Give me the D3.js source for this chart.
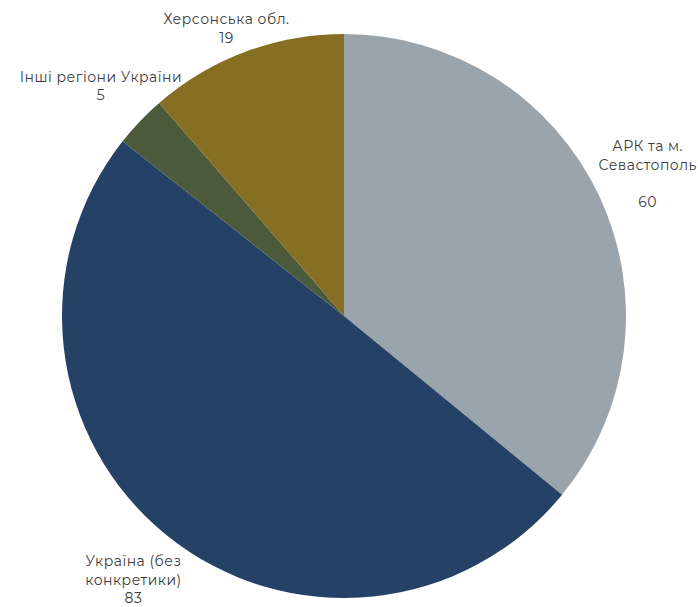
<!DOCTYPE html>
<html>
<head>
<meta charset="utf-8">
<script src="https://cdn.jsdelivr.net/npm/d3@7"></script>
<style>
  html, body { margin: 0; padding: 0; background: #ffffff; }
  svg { display: block; }
</style>
</head>
<body>
<svg id="chart" width="698" height="607"></svg>
<script>
// Regions and counts, in clockwise order from 12 o'clock
const regions = ["АРК та м. Севастополь", "Україна (без конкретики)", "Інші регіони України", "Херсонська обл."];
const counts = [60, 83, 5, 19];
const labelLines = [
  ["АРК та м.", "Севастополь", "", "60"],
  ["Україна (без", "конкретики)", "83"],
  ["Інші регіони України", "5"],
  ["Херсонська обл.", "19"]
];
const colors = ["#9aa4ac", "#264166", "#4a5a3b", "#866e22"];

const width = 698, height = 607;
const cx = 344, cy = 316, radius = 282;
const labelRadius = 336;
const lineHeight = 18.5;

const svg = d3.select("#chart");
const g = svg.append("g").attr("transform", `translate(${cx},${cy})`);

const data = regions.map((name, i) => ({ name, value: counts[i], lines: labelLines[i] }));

const pie = d3.pie().value(d => d.value).sort(null);
const arc = d3.arc().innerRadius(0).outerRadius(radius);
const labelArc = d3.arc().innerRadius(labelRadius).outerRadius(labelRadius);

const arcs = pie(data);
const color = d3.scaleOrdinal().domain(regions).range(colors);

g.selectAll("path.slice")
  .data(arcs)
  .join("path")
  .attr("class", "slice")
  .attr("d", arc)
  .attr("fill", d => color(d.data.name));

// Outside labels, centred on the slice's mid-angle, kept inside the top edge
g.selectAll("text.label")
  .data(arcs)
  .join("text")
  .attr("class", "label")
  .attr("text-anchor", "middle")
  .attr("font-family", "Montserrat, Inter, 'Open Sans', sans-serif")
  .attr("font-size", 14)
  .attr("letter-spacing", 0.5)
  .attr("fill", "#3c3c3c")
  .each(function (d) {
    const [x, y] = labelArc.centroid(d);
    const n = d.data.lines.length;
    const blockH = n * lineHeight;
    let top = y - blockH / 2 + 2;
    const minTop = 10 - cy;
    if (top < minTop) top = minTop;
    const t = d3.select(this);
    d.data.lines.forEach((line, i) => {
      t.append("tspan")
        .attr("x", x)
        .attr("y", top + i * lineHeight + lineHeight / 2)
        .attr("dy", "0.35em")
        .text(line);
    });
  });
</script>
</body>
</html>
